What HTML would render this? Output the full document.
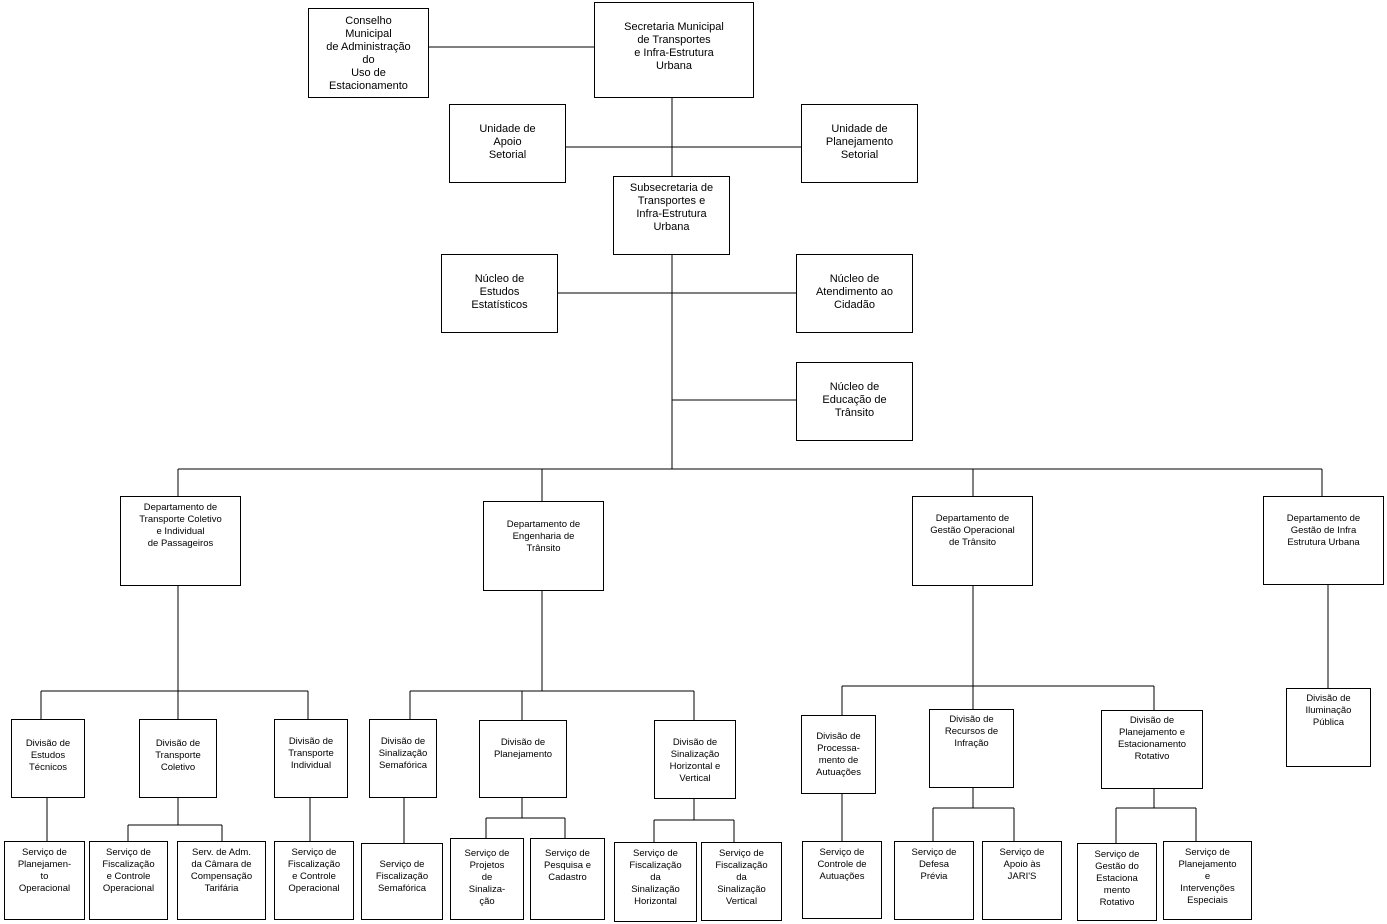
<!DOCTYPE html>
<html><head><meta charset="utf-8"><style>
body{margin:0;background:#fff;width:1387px;height:924px;position:relative;overflow:hidden;font-family:"Liberation Sans",sans-serif;color:#000}
.b{position:absolute;border:1px solid #000;box-sizing:border-box;text-align:center;background:#fff}
.t{font-size:11px;line-height:13px}
.s{font-size:9.5px;line-height:12px}
svg{position:absolute;left:0;top:0}
</style></head><body>
<svg width="1387" height="924" stroke="#000" stroke-width="1" fill="none" shape-rendering="crispEdges">
<path d="M428 47H594M672 97V176M565 147H801M672 254V469M557 293H796M672 400H796M178 469H1322M178 469V496M542 469V501M973 469V496M1322 469V496"/>
<path d="M178 585V691M41 691H308M41 691V719M178 691V719M308 691V719M47 797V841M178 797V825M128 825H222M128 825V841M222 825V841M310 797V841"/>
<path d="M542 590V691M410 691H694M410 691V719M522 691V720M694 691V720M404 797V843M522 797V818M486 818H565M486 818V838M565 818V838M694 798V820M654 820H734M654 820V842M734 820V842"/>
<path d="M973 585V686M842 686H1154M842 686V715M973 686V709M1154 686V710M842 793V841M973 787V808M933 808H1014M933 808V841M1014 808V841M1154 788V808M1116 808H1196M1116 808V843M1196 808V841M1328 584V688"/>
</svg>
<div class="b t" style="left:308px;top:8px;width:121px;height:90px;padding-top:6px">Conselho<br>Municipal<br>de Administração<br>do<br>Uso de<br>Estacionamento</div>
<div class="b t" style="left:594px;top:2px;width:160px;height:96px;padding-top:18px">Secretaria Municipal<br>de Transportes<br>e Infra-Estrutura<br>Urbana</div>
<div class="b t" style="left:449px;top:104px;width:117px;height:79px;padding-top:18px">Unidade de<br>Apoio<br>Setorial</div>
<div class="b t" style="left:801px;top:104px;width:117px;height:79px;padding-top:18px">Unidade de<br>Planejamento<br>Setorial</div>
<div class="b t" style="left:613px;top:176px;width:117px;height:79px;padding-top:5px">Subsecretaria de<br>Transportes e<br>Infra-Estrutura<br>Urbana</div>
<div class="b t" style="left:441px;top:254px;width:117px;height:79px;padding-top:18px">Núcleo de<br>Estudos<br>Estatísticos</div>
<div class="b t" style="left:796px;top:254px;width:117px;height:79px;padding-top:18px">Núcleo de<br>Atendimento ao<br>Cidadão</div>
<div class="b t" style="left:796px;top:362px;width:117px;height:79px;padding-top:18px">Núcleo de<br>Educação de<br>Trânsito</div>

<div class="b s" style="left:120px;top:496px;width:121px;height:90px;padding-top:5px">Departamento de<br>Transporte Coletivo<br>e Individual<br>de Passageiros</div>
<div class="b s" style="left:483px;top:501px;width:121px;height:90px;padding-top:17px">Departamento de<br>Engenharia de<br>Trânsito</div>
<div class="b s" style="left:912px;top:496px;width:121px;height:90px;padding-top:16px">Departamento de<br>Gestão Operacional<br>de Trânsito</div>
<div class="b s" style="left:1263px;top:496px;width:121px;height:89px;padding-top:16px">Departamento de<br>Gestão de Infra<br>Estrutura Urbana</div>

<div class="b s" style="left:11px;top:719px;width:74px;height:79px;padding-top:18px">Divisão de<br>Estudos<br>Técnicos</div>
<div class="b s" style="left:139px;top:719px;width:78px;height:79px;padding-top:18px">Divisão de<br>Transporte<br>Coletivo</div>
<div class="b s" style="left:274px;top:719px;width:74px;height:79px;padding-top:16px">Divisão de<br>Transporte<br>Individual</div>
<div class="b s" style="left:369px;top:719px;width:68px;height:79px;padding-top:16px">Divisão de<br>Sinalização<br>Semafórica</div>
<div class="b s" style="left:479px;top:720px;width:88px;height:78px;padding-top:16px">Divisão de<br>Planejamento</div>
<div class="b s" style="left:654px;top:720px;width:82px;height:79px;padding-top:16px">Divisão de<br>Sinalização<br>Horizontal e<br>Vertical</div>
<div class="b s" style="left:801px;top:715px;width:75px;height:79px;padding-top:15px">Divisão de<br>Processa-<br>mento de<br>Autuações</div>
<div class="b s" style="left:929px;top:709px;width:85px;height:79px;padding-top:4px">Divisão de<br>Recursos de<br>Infração</div>
<div class="b s" style="left:1101px;top:710px;width:102px;height:79px;padding-top:4px">Divisão de<br>Planejamento e<br>Estacionamento<br>Rotativo</div>
<div class="b s" style="left:1286px;top:688px;width:85px;height:79px;padding-top:4px">Divisão de<br>Iluminação<br>Pública</div>

<div class="b s" style="left:4px;top:841px;width:81px;height:79px;padding-top:5px">Serviço de<br>Planejamen-<br>to<br>Operacional</div>
<div class="b s" style="left:89px;top:841px;width:79px;height:79px;padding-top:5px">Serviço de<br>Fiscalização<br>e Controle<br>Operacional</div>
<div class="b s" style="left:177px;top:841px;width:89px;height:79px;padding-top:5px">Serv. de Adm.<br>da Câmara de<br>Compensação<br>Tarifária</div>
<div class="b s" style="left:274px;top:841px;width:80px;height:79px;padding-top:5px">Serviço de<br>Fiscalização<br>e Controle<br>Operacional</div>
<div class="b s" style="left:361px;top:843px;width:82px;height:77px;padding-top:15px">Serviço de<br>Fiscalização<br>Semafórica</div>
<div class="b s" style="left:450px;top:838px;width:74px;height:82px;padding-top:9px">Serviço de<br>Projetos<br>de<br>Sinaliza-<br>ção</div>
<div class="b s" style="left:530px;top:838px;width:75px;height:82px;padding-top:9px">Serviço de<br>Pesquisa e<br>Cadastro</div>
<div class="b s" style="left:614px;top:842px;width:83px;height:80px;padding-top:5px">Serviço de<br>Fiscalização<br>da<br>Sinalização<br>Horizontal</div>
<div class="b s" style="left:701px;top:842px;width:81px;height:79px;padding-top:5px">Serviço de<br>Fiscalização<br>da<br>Sinalização<br>Vertical</div>
<div class="b s" style="left:802px;top:841px;width:80px;height:78px;padding-top:5px">Serviço de<br>Controle de<br>Autuações</div>
<div class="b s" style="left:894px;top:841px;width:80px;height:79px;padding-top:5px">Serviço de<br>Defesa<br>Prévia</div>
<div class="b s" style="left:982px;top:841px;width:80px;height:79px;padding-top:5px">Serviço de<br>Apoio às<br>JARI'S</div>
<div class="b s" style="left:1077px;top:843px;width:80px;height:78px;padding-top:5px">Serviço de<br>Gestão do<br>Estaciona<br>mento<br>Rotativo</div>
<div class="b s" style="left:1163px;top:841px;width:89px;height:79px;padding-top:5px">Serviço de<br>Planejamento<br>e<br>Intervenções<br>Especiais</div>
</body></html>
